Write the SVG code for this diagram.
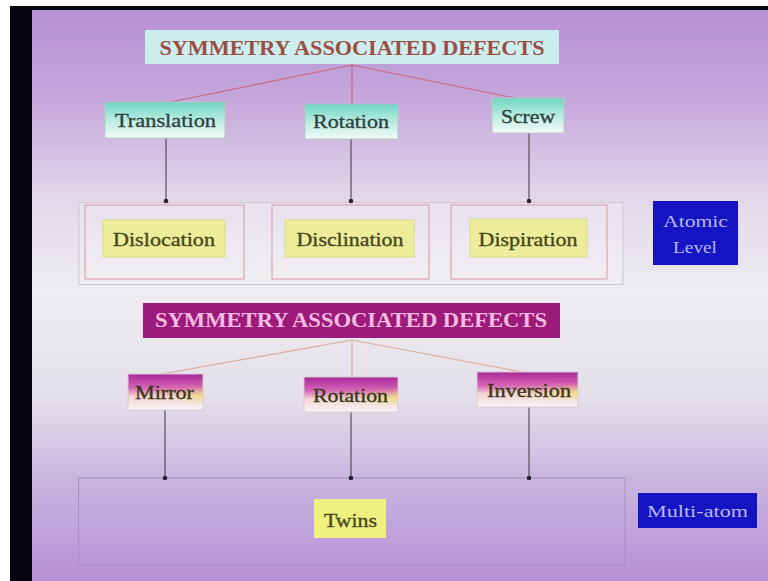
<svg xmlns="http://www.w3.org/2000/svg" width="768" height="581" viewBox="0 0 768 581">
  <defs>
    <linearGradient id="bg" gradientUnits="userSpaceOnUse" x1="0" y1="10" x2="0" y2="581">
      <stop offset="0" stop-color="#b592d4"/>
      <stop offset="0.16" stop-color="#c6a8dc"/>
      <stop offset="0.33" stop-color="#e2d8ea"/>
      <stop offset="0.49" stop-color="#eeecf0"/>
      <stop offset="0.68" stop-color="#e4e0ea"/>
      <stop offset="0.82" stop-color="#c9b6e0"/>
      <stop offset="1" stop-color="#b690d6"/>
    </linearGradient>
    <linearGradient id="teal" x1="0" y1="0" x2="0" y2="1">
      <stop offset="0" stop-color="#6fd6c4"/>
      <stop offset="0.5" stop-color="#b8ece0"/>
      <stop offset="1" stop-color="#f4faf8"/>
    </linearGradient>
    <linearGradient id="magV" x1="0" y1="0" x2="0" y2="1">
      <stop offset="0" stop-color="#a82898"/>
      <stop offset="0.4" stop-color="#d868b8"/>
      <stop offset="0.62" stop-color="#f2d4d8"/>
      <stop offset="1" stop-color="#faf6f6"/>
    </linearGradient>
    <linearGradient id="magY" x1="0" y1="0" x2="1" y2="0">
      <stop offset="0" stop-color="#f0e060" stop-opacity="0"/>
      <stop offset="0.6" stop-color="#f0e060" stop-opacity="0.15"/>
      <stop offset="1" stop-color="#f0e060" stop-opacity="0.7"/>
    </linearGradient>
    <linearGradient id="magYmask" x1="0" y1="0" x2="0" y2="1">
      <stop offset="0.3" stop-color="#fff" stop-opacity="0"/>
      <stop offset="0.6" stop-color="#fff" stop-opacity="1"/>
      <stop offset="0.85" stop-color="#fff" stop-opacity="0"/>
    </linearGradient>
    <mask id="ymask" maskContentUnits="objectBoundingBox">
      <rect x="0" y="0" width="1" height="1" fill="url(#magYmask)"/>
    </mask>
    <style>
      .serif { font-family: "Liberation Serif", "Times New Roman", serif; }
      .title1 { font-size: 20px; font-weight: bold; fill: #9c4e44; }
      .title2 { font-size: 20px; font-weight: bold; fill: #f6bce0; }
      .teal-box { fill: url(#teal); stroke: #b8c8c8; stroke-width: 1; }
      .teal-txt { font-size: 19px; fill: #304240; stroke: #304240; stroke-width: 0.35; }
      .yellow-box { fill: #eeee9a; stroke: #dada88; stroke-width: 1; }
      .yellow-txt { font-size: 19px; fill: #46461e; stroke: #46461e; stroke-width: 0.35; }
      .mag-box { fill: url(#magV); stroke: #d8c8d8; stroke-width: 1; }
      .mag-txt { font-size: 18px; fill: #3a3816; stroke: #3a3816; stroke-width: 0.35; }
      .blue-box { fill: #1414c2; }
      .blue-txt { font-size: 17px; fill: #b8b8ee; }
      .frame-red { fill: none; stroke: #d89a9e; stroke-width: 1; }
      .frame-outer { fill: #ffffff; fill-opacity: 0.22; stroke: #cfc6d0; stroke-width: 1; }
      .frame-outer2 { fill: none; stroke: #a590c0; stroke-width: 1; }
      .link-red { stroke: #c8687e; stroke-width: 1.2; fill: none; }
      .link-tan { stroke: #d8aa96; stroke-width: 1.2; fill: none; }
      .link-dark { stroke: #3a3440; stroke-width: 1; fill: none; }
      .dot { fill: #2a2430; }
    </style>
  </defs>

  <!-- slide background and frame edges -->
  <rect x="0" y="0" width="768" height="581" fill="#ffffff"/>
  <rect x="10" y="6" width="758" height="575" fill="#050510"/>
  <rect x="32" y="10" width="736" height="571" fill="url(#bg)"/>

  <!-- grouping frames -->
  <g id="frames">
    <rect class="frame-outer" x="79" y="202.5" width="544" height="82"/>
    <rect class="frame-red" x="85" y="205" width="159" height="74"/>
    <rect class="frame-red" x="272" y="205" width="157" height="74"/>
    <rect class="frame-red" x="451" y="205" width="156" height="74"/>
    <rect class="frame-outer2" x="78.5" y="478" width="546.5" height="87"/>
  </g>

  <!-- connectors -->
  <g id="connectors">
    <line class="link-red" x1="352" y1="65" x2="170" y2="102"/>
    <line class="link-red" x1="352" y1="65" x2="352" y2="104"/>
    <line class="link-red" x1="352" y1="65" x2="515" y2="98"/>
    <line class="link-dark" x1="166" y1="138" x2="166" y2="201"/>
    <line class="link-dark" x1="351" y1="139" x2="351" y2="201"/>
    <line class="link-dark" x1="529" y1="133" x2="529" y2="201"/>
    <circle class="dot" cx="166" cy="201" r="2.3"/>
    <circle class="dot" cx="351" cy="201" r="2.3"/>
    <circle class="dot" cx="529" cy="201" r="2.3"/>

    <line class="link-tan" x1="352" y1="340" x2="162" y2="374"/>
    <line class="link-tan" x1="352" y1="340" x2="352" y2="377"/>
    <line class="link-tan" x1="352" y1="340" x2="522" y2="372"/>
    <line class="link-dark" x1="165" y1="410" x2="165" y2="478"/>
    <line class="link-dark" x1="351" y1="412" x2="351" y2="478"/>
    <line class="link-dark" x1="529" y1="407" x2="529" y2="478"/>
    <circle class="dot" cx="165" cy="478" r="2.3"/>
    <circle class="dot" cx="351" cy="478" r="2.3"/>
    <circle class="dot" cx="529" cy="478" r="2.3"/>
  </g>

  <!-- upper tree -->
  <g id="title-top">
    <rect x="145" y="30" width="414" height="34" fill="#cdeeee"/>
    <text class="serif title1" x="352" y="55" text-anchor="middle" textLength="385" lengthAdjust="spacingAndGlyphs">SYMMETRY ASSOCIATED DEFECTS</text>
  </g>
  <g id="translation">
    <rect class="teal-box" x="105" y="102" width="120" height="36"/>
    <text class="serif teal-txt" x="165.5" y="127" text-anchor="middle" textLength="101" lengthAdjust="spacingAndGlyphs">Translation</text>
  </g>
  <g id="rotation-top">
    <rect class="teal-box" x="305" y="104" width="93" height="35"/>
    <text class="serif teal-txt" x="351" y="128" text-anchor="middle" textLength="76" lengthAdjust="spacingAndGlyphs">Rotation</text>
  </g>
  <g id="screw">
    <rect class="teal-box" x="492" y="98" width="72" height="35"/>
    <text class="serif teal-txt" x="528" y="123" text-anchor="middle" textLength="54" lengthAdjust="spacingAndGlyphs">Screw</text>
  </g>
  <g id="dislocation">
    <rect class="yellow-box" x="103" y="220" width="122" height="37"/>
    <text class="serif yellow-txt" x="164" y="246" text-anchor="middle" textLength="102" lengthAdjust="spacingAndGlyphs">Dislocation</text>
  </g>
  <g id="disclination">
    <rect class="yellow-box" x="285" y="220" width="129" height="37"/>
    <text class="serif yellow-txt" x="350" y="246" text-anchor="middle" textLength="107" lengthAdjust="spacingAndGlyphs">Disclination</text>
  </g>
  <g id="dispiration">
    <rect class="yellow-box" x="470" y="219" width="117" height="38"/>
    <text class="serif yellow-txt" x="528" y="246" text-anchor="middle" textLength="99" lengthAdjust="spacingAndGlyphs">Dispiration</text>
  </g>
  <g id="atomic-level">
    <rect class="blue-box" x="653" y="201" width="85" height="64"/>
    <text class="serif blue-txt" x="695.5" y="227" text-anchor="middle" textLength="65" lengthAdjust="spacingAndGlyphs">Atomic</text>
    <text class="serif blue-txt" x="695" y="253" text-anchor="middle" textLength="44" lengthAdjust="spacingAndGlyphs">Level</text>
  </g>

  <!-- lower tree -->
  <g id="title-bottom">
    <rect x="143" y="303" width="417" height="35" fill="#9c1a7a"/>
    <text class="serif title2" x="351" y="327" text-anchor="middle" textLength="392" lengthAdjust="spacingAndGlyphs">SYMMETRY ASSOCIATED DEFECTS</text>
  </g>
  <g id="mirror">
    <rect class="mag-box" x="128" y="374" width="75" height="36"/>
    <rect x="128" y="374" width="75" height="36" fill="url(#magY)" mask="url(#ymask)"/>
    <text class="serif mag-txt" x="164.5" y="399" text-anchor="middle" textLength="59" lengthAdjust="spacingAndGlyphs">Mirror</text>
  </g>
  <g id="rotation-bottom">
    <rect class="mag-box" x="304" y="377" width="94" height="35"/>
    <rect x="304" y="377" width="94" height="35" fill="url(#magY)" mask="url(#ymask)"/>
    <text class="serif mag-txt" x="350.5" y="402" text-anchor="middle" textLength="75" lengthAdjust="spacingAndGlyphs">Rotation</text>
  </g>
  <g id="inversion">
    <rect class="mag-box" x="477" y="372" width="101" height="35"/>
    <rect x="477" y="372" width="101" height="35" fill="url(#magY)" mask="url(#ymask)"/>
    <text class="serif mag-txt" x="529" y="397" text-anchor="middle" textLength="84" lengthAdjust="spacingAndGlyphs">Inversion</text>
  </g>
  <g id="twins">
    <rect x="314" y="499" width="72" height="39" fill="#f0f080"/>
    <text class="serif yellow-txt" x="350.5" y="527" text-anchor="middle" textLength="53" lengthAdjust="spacingAndGlyphs">Twins</text>
  </g>
  <g id="multi-atom">
    <rect class="blue-box" x="638" y="493" width="119" height="35"/>
    <text class="serif blue-txt" x="697.5" y="517" text-anchor="middle" textLength="101" lengthAdjust="spacingAndGlyphs">Multi-atom</text>
  </g>
</svg>
